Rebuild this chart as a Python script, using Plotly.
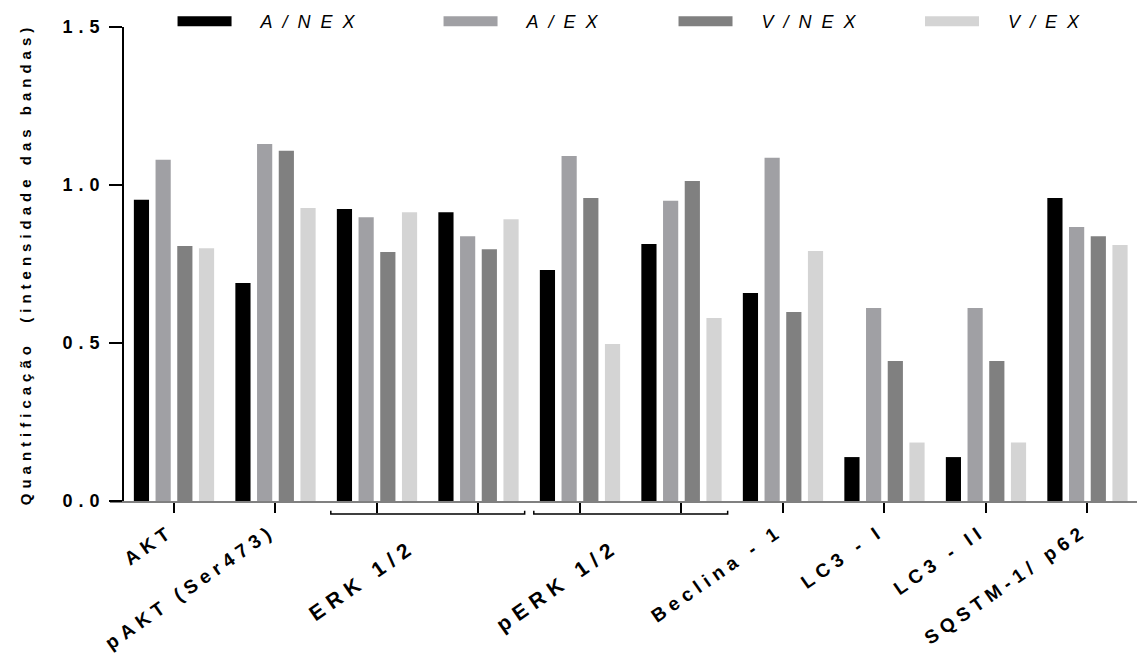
import plotly.graph_objects as go

# ---- data ----
groups = ["AKT", "pAKT (Ser473)", "ERK 1/2", "pERK 1/2", "Beclina - 1",
          "LC3 - I", "LC3 - II", "SQSTM-1/ p62"]
group_sizes = [1, 1, 2, 2, 1, 1, 1, 1]

series_names = ["A/NEX", "A/EX", "V/NEX", "V/EX"]
a_nex = [0.953, 0.69, 0.924, 0.914, 0.731, 0.813, 0.658, 0.139, 0.139, 0.959]
a_ex = [1.080, 1.13, 0.898, 0.838, 1.092, 0.950, 1.086, 0.611, 0.611, 0.867]
v_nex = [0.807, 1.108, 0.788, 0.797, 0.959, 1.013, 0.598, 0.443, 0.443, 0.838]
v_ex = [0.800, 0.927, 0.914, 0.892, 0.497, 0.579, 0.791, 0.185, 0.185, 0.810]
series_values = [a_nex, a_ex, v_nex, v_ex]
colors = ["#000000", "#a0a0a4", "#808080", "#d4d4d4"]

y_tick_vals = [0.0, 0.5, 1.0, 1.5]
y_tick_text = ["0.0", "0.5", "1.0", "1.5"]
y_title = "Quantificação\u00a0 (intensidade das bandas)"

# ---- derived positions ----
col_x = []
col_text = []
group_centers = []
pos = 0
for g, n in zip(groups, group_sizes):
    xs = list(range(pos, pos + n))
    col_x += xs
    col_text += [g if n == 1 else ""] * n
    if n > 1:
        group_centers.append((sum(xs) / n, g, xs[0], xs[-1]))
    pos += n


def b(t):
    return f"<b>{t}</b>" if t else ""


FONT = "Liberation Sans"
XR = [-0.6305, 9.488]
legend_ids = ["legend", "legend2", "legend3", "legend4"]
legend_x = [0.0609, 0.3199, 0.5487, 0.7887]

fig = go.Figure()
for name, vals, c in zip(series_names, series_values, colors):
    fig.add_trace(go.Bar(x=col_x, y=vals, name=name, marker=dict(color=c, line=dict(width=0)),
                         showlegend=False))
for name, c, lid in zip(series_names, colors, legend_ids):
    fig.add_trace(go.Scatter(x=[None], y=[None], mode="lines", name=name, legend=lid,
                             line=dict(color=c, width=13, dash="54px,300px"), showlegend=True,
                             hoverinfo="skip"))
# carrier for the group-label axis
fig.add_trace(go.Scatter(x=[None], y=[None], xaxis="x2", mode="markers",
                         showlegend=False, hoverinfo="skip"))

shapes = []
for cx, g, x0, x1 in group_centers:
    a, bb = x0 - 0.455, x1 + 0.455
    shapes.append(dict(type="path", xref="x", yref="paper",
                       path=f"M{a},-0.0205 L{a},-0.0274 L{bb},-0.0274 L{bb},-0.0205",
                       line=dict(color="black", width=1.5)))

tick_font = dict(family=FONT, size=18, color="black")
xlab_font = dict(family=FONT, size=19, color="black")
grp_font = dict(family=FONT, size=21, color="black")

legends = {}
for lid, lx in zip(legend_ids, legend_x):
    legends[lid] = dict(orientation="h", x=lx, y=1.0116, xanchor="left", yanchor="middle",
                        font=dict(family=FONT, size=18, color="black", style="italic"),
                        itemwidth=78, bgcolor="rgba(0,0,0,0)")

fig.update_layout(
    width=1137, height=656,
    margin=dict(l=110, r=0, t=27, b=155),
    paper_bgcolor="white", plot_bgcolor="white",
    barmode="group", bargap=0.145, bargroupgap=0.3,
    shapes=shapes,
    xaxis=dict(range=XR, domain=[0, 1], tickmode="array",
               tickvals=col_x, ticktext=[b(t) for t in col_text], tickangle=-35,
               ticks="outside", ticklen=10, tickwidth=1.5, tickcolor="black",
               showline=True, linecolor="#808080", linewidth=2, ticklabelshift=-4,
               showgrid=False, zeroline=False, tickfont=xlab_font),
    xaxis2=dict(overlaying="x", matches="x", anchor="y", side="bottom",
                range=XR, tickmode="array",
                tickvals=[c[0] for c in group_centers], ticktext=[b(c[1]) for c in group_centers],
                tickangle=-35, ticks="", showline=False, showgrid=False, zeroline=False,
                ticklabelstandoff=29, ticklabelshift=-16, tickfont=grp_font),
    yaxis=dict(range=[0, 1.5], anchor="free", position=13 / 1027,
               tickmode="array", tickvals=y_tick_vals, ticktext=[b(t) for t in y_tick_text],
               ticks="outside", ticklen=13, tickwidth=1.5, tickcolor="black",
               showline=True, linecolor="black", linewidth=1.5,
               showgrid=False, zeroline=False, tickfont=tick_font,
               title=dict(text=b(y_title), standoff=44,
                          font=dict(family=FONT, size=15, color="black"))),
    **legends,
)

post = """
var st = document.createElement('style');
st.textContent = '.xtick text{letter-spacing:5.5px}' +
  '.x2tick text{letter-spacing:6.5px}' +
  '.ytick text{letter-spacing:6px}' +
  '.infolayer text, .legendtext, g[class*="legend"] text{letter-spacing:10px}' +
  '.infolayer text.ytitle{letter-spacing:5px !important}' +
  '.infolayer [clip-path], g[class*="legend"] .scrollbox{clip-path:none !important}';
document.head.appendChild(st);
"""
fig.write_html("out.html", post_script=post)
